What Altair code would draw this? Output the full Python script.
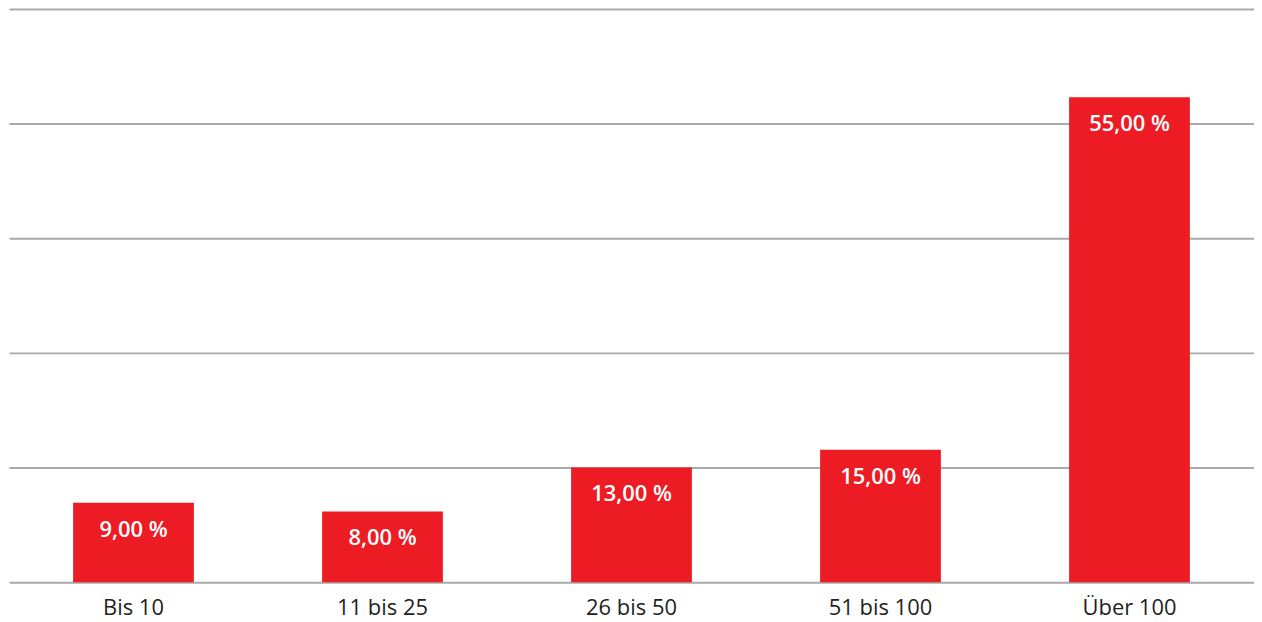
import altair as alt
import pandas as pd

categories = ["Bis 10", "11 bis 25", "26 bis 50", "51 bis 100", "Über 100"]
values = [9, 8, 13, 15, 55]
labels = ["9,00 %", "8,00 %", "13,00 %", "15,00 %", "55,00 %"]

df = pd.DataFrame({"cat": categories, "val": values, "lab": labels})

FONT = "Open Sans"

x = alt.X("cat:N", sort=categories, title=None,
          scale=alt.Scale(paddingInner=0.515, paddingOuter=0.2575),
          axis=alt.Axis(labelAngle=0, labelFontSize=22, labelColor="#231f20",
                        labelFont=FONT, domain=False, ticks=False, labelPadding=15))
y = alt.Y("val:Q", title=None,
          scale=alt.Scale(domain=[0, 65], nice=False),
          axis=alt.Axis(values=[0, 13, 26, 39, 52, 65], labels=False, ticks=False,
                        domain=False, grid=True, gridColor="#a7a9ac", gridWidth=2))

bars = alt.Chart(df).mark_bar(color="#ed1c24").encode(x=x, y=y)
text = alt.Chart(df).mark_text(color="white", font=FONT, fontSize=22, fontWeight=600,
                               baseline="middle", dy=27).encode(
    x=alt.X("cat:N", sort=categories), y=alt.Y("val:Q"), text="lab:N")

chart = (bars + text).properties(
    width=1249, height=575,
    autosize=alt.AutoSizeParams(type="none"),
    padding={"left": 1, "top": 0, "right": 0, "bottom": 39},
).configure_view(stroke=None)

chart.save("out.html", embed_options={"renderer": "svg", "actions": False})
